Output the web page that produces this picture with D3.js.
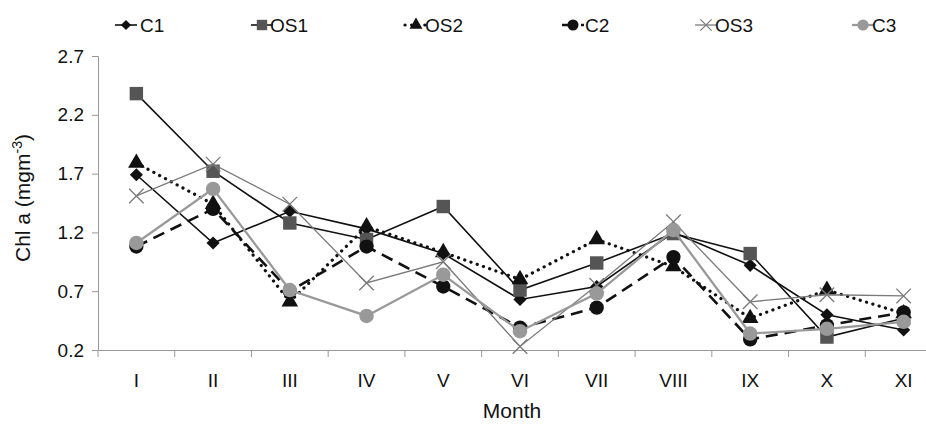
<!DOCTYPE html>
<html>
<head>
<meta charset="utf-8">
<script src="https://cdn.jsdelivr.net/npm/d3@7/dist/d3.min.js"></script>
<style>
  body { margin: 0; background: #fff; }
  svg { display: block; font-family: "Liberation Sans", Arial, sans-serif; }
</style>
</head>
<body>
<script>
// Data
const months = ['I', 'II', 'III', 'IV', 'V', 'VI', 'VII', 'VIII', 'IX', 'X', 'XI'];
const yTicks = [0.2, 0.7, 1.2, 1.7, 2.2, 2.7];

const C1  = [1.69, 1.11, 1.38, 1.23, 1.02, 0.63, 0.74, 1.20, 0.92, 0.50, 0.37];
const OS1 = [2.38, 1.72, 1.28, 1.14, 1.42, 0.71, 0.94, 1.19, 1.02, 0.31, 0.47];
const OS2 = [1.79, 1.44, 0.61, 1.25, 1.03, 0.80, 1.14, 0.91, 0.47, 0.71, 0.51];
const C2  = [1.08, 1.40, 0.70, 1.08, 0.74, 0.39, 0.56, 0.99, 0.29, 0.41, 0.52];
const OS3 = [1.51, 1.78, 1.44, 0.77, 0.95, 0.23, 0.75, 1.29, 0.61, 0.67, 0.66];
const C3  = [1.11, 1.57, 0.71, 0.49, 0.84, 0.36, 0.68, 1.22, 0.34, 0.38, 0.44];

const seriesNames = ['C1', 'OS1', 'OS2', 'C2', 'OS3', 'C3'];
const seriesValues = [C1, OS1, OS2, C2, OS3, C3];

// Look of each series
const styles = {
  C1:  { stroke: '#111', width: 1.6, dash: null, symbol: d3.symbolDiamond2, size: 110, fill: '#111' },
  OS1: { stroke: '#111', width: 1.6, dash: null, symbol: d3.symbolSquare, size: 180, fill: '#555' },
  OS2: { stroke: '#111', width: 3.2, dash: '0.1,6.5', symbol: d3.symbolTriangle, size: 120, fill: '#111' },
  C2:  { stroke: '#111', width: 2.6, dash: '12,7', symbol: d3.symbolCircle, size: 160, fill: '#111' },
  OS3: { stroke: '#7a7a7a', width: 1.3, dash: null, symbol: d3.symbolTimes, size: 140, fill: 'none' },
  C3:  { stroke: '#999', width: 2.3, dash: null, symbol: d3.symbolCircle, size: 165, fill: '#999' }
};

const w = 926;
const h = 431;
const plotLeft = 98;
const plotRight = 942;
const plotTop = 56;
const plotBottom = 350;

const svg = d3.select('body')
  .append('svg')
  .attr('width', w)
  .attr('height', h);

const x = d3.scaleBand()
  .domain(months)
  .range([plotLeft, plotRight]);

const y = d3.scaleLinear()
  .domain([0.2, 2.7])
  .range([plotBottom, plotTop]);

// Y axis
const yAxis = svg.append('g')
  .attr('transform', `translate(${plotLeft},0)`)
  .call(d3.axisLeft(y).tickValues(yTicks).tickFormat(d3.format('.1f')).tickSize(6).tickPadding(8));
yAxis.select('.domain').attr('stroke', '#999');
yAxis.selectAll('.tick line').attr('stroke', '#999');
yAxis.selectAll('.tick text').attr('font-size', 19).attr('fill', '#111');

// X axis
const xAxis = svg.append('g')
  .attr('transform', `translate(0,${plotBottom})`)
  .call(d3.axisBottom(x).tickSize(0).tickPadding(24));
xAxis.select('.domain').attr('stroke', '#999');
xAxis.selectAll('.tick text').attr('font-size', 19).attr('fill', '#111');

// tick marks between months
svg.append('g')
  .selectAll('line')
  .data(months)
  .join('line')
  .attr('x1', d => x(d))
  .attr('x2', d => x(d))
  .attr('y1', plotBottom)
  .attr('y2', plotBottom + 7)
  .attr('stroke', '#999');

// Axis titles
svg.append('text')
  .attr('x', 512)
  .attr('y', 418)
  .attr('text-anchor', 'middle')
  .attr('font-size', 21)
  .attr('fill', '#111')
  .text('Month');

const yTitle = svg.append('text')
  .attr('transform', 'translate(30,198) rotate(-90)')
  .attr('text-anchor', 'middle')
  .attr('font-size', 21)
  .attr('fill', '#111');
yTitle.append('tspan').text('Chl a (mgm');
yTitle.append('tspan').attr('font-size', 14).attr('dy', -8).text('-3');
yTitle.append('tspan').attr('dy', 8).text(')');

// Lines and markers
const line = d3.line()
  .x((d, i) => x(months[i]) + x.bandwidth() / 2)
  .y(d => y(d));

seriesNames.forEach((name, k) => {
  const s = styles[name];
  const vals = seriesValues[k];
  const g = svg.append('g');

  g.append('path')
    .datum(vals)
    .attr('d', line)
    .attr('fill', 'none')
    .attr('stroke', s.stroke)
    .attr('stroke-width', s.width)
    .attr('stroke-linecap', s.dash && s.dash.startsWith('0.1') ? 'round' : 'butt')
    .attr('stroke-dasharray', s.dash);

  g.selectAll('path.m')
    .data(vals)
    .join('path')
    .attr('class', 'm')
    .attr('transform', (d, i) => `translate(${x(months[i]) + x.bandwidth() / 2},${y(d)})`)
    .attr('d', d3.symbol(s.symbol, s.size))
    .attr('fill', s.fill)
    .attr('stroke', s.fill === 'none' ? s.stroke : 'none')
    .attr('stroke-width', 1.3);
});

// Legend
const legendMarks = [126, 262, 416, 573, 706, 863];
const legendText = [140, 270, 425, 585, 715, 872];
const legendY = 25;

seriesNames.forEach((name, k) => {
  const s = styles[name];
  const g = svg.append('g');
  const cx = legendMarks[k];
  g.append('line')
    .attr('x1', cx - 11)
    .attr('x2', cx + 11)
    .attr('y1', legendY)
    .attr('y2', legendY)
    .attr('stroke', s.stroke)
    .attr('stroke-width', s.width)
    .attr('stroke-linecap', s.dash && s.dash.startsWith('0.1') ? 'round' : 'butt')
    .attr('stroke-dasharray', s.dash);
  g.append('path')
    .attr('transform', `translate(${cx},${legendY})`)
    .attr('d', d3.symbol(s.symbol, s.size * 0.6))
    .attr('fill', s.fill)
    .attr('stroke', s.fill === 'none' ? s.stroke : 'none')
    .attr('stroke-width', 1.2);
  g.append('text')
    .attr('x', legendText[k])
    .attr('y', legendY)
    .attr('dy', '0.35em')
    .attr('font-size', 19)
    .attr('fill', '#111')
    .text(name);
});
</script>
</body>
</html>
